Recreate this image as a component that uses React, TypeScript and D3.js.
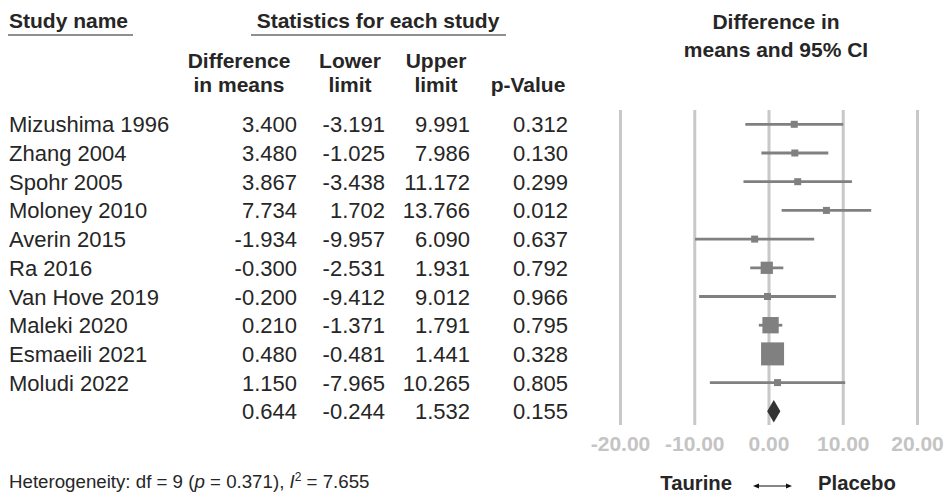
import React from "react";
import * as d3 from "d3";

// Study-level results (difference in means, 95% CI, p-value)
const studies = [
  "Mizushima 1996",
  "Zhang 2004",
  "Spohr 2005",
  "Moloney 2010",
  "Averin 2015",
  "Ra 2016",
  "Van Hove 2019",
  "Maleki 2020",
  "Esmaeili 2021",
  "Moludi 2022",
];
const diffs = [3.4, 3.48, 3.867, 7.734, -1.934, -0.3, -0.2, 0.21, 0.48, 1.15];
const lowers = [-3.191, -1.025, -3.438, 1.702, -9.957, -2.531, -9.412, -1.371, -0.481, -7.965];
const uppers = [9.991, 7.986, 11.172, 13.766, 6.09, 1.931, 9.012, 1.791, 1.441, 10.265];
const pValues = [0.312, 0.13, 0.299, 0.012, 0.637, 0.792, 0.966, 0.795, 0.328, 0.805];

// Pooled estimate
const pooled = { diff: 0.644, lower: -0.244, upper: 1.532, p: 0.155 };

const axisTicks = [-20, -10, 0, 10, 20];

const W = 946;
const H = 497;
const FONT = "'Liberation Sans', Arial, Helvetica, sans-serif";
const TEXT = "#262626";
const MARK = "#808080";
const GRID = "#c8c8c8";

// Random-effects (DerSimonian-Laird) weights, derived from the CIs, to size the squares
function reWeights(): number[] {
  const v = lowers.map((lo, i) => Math.pow((uppers[i] - lo) / (2 * 1.96), 2));
  const w = v.map((x) => 1 / x);
  const sw = d3.sum(w);
  const mean = d3.sum(w.map((wi, i) => wi * diffs[i])) / sw;
  const Q = d3.sum(w.map((wi, i) => wi * Math.pow(diffs[i] - mean, 2)));
  const C = sw - d3.sum(w.map((wi) => wi * wi)) / sw;
  const tau2 = Math.max(0, (Q - (studies.length - 1)) / C);
  return v.map((vi) => 1 / (vi + tau2));
}

export default function App() {
  const x = d3.scaleLinear().domain([-20, 20]).range([620.5, 917.5]);
  const row = d3
    .scaleLinear()
    .domain([0, studies.length])
    .range([124.3, 124.3 + 28.7 * studies.length]);
  const weights = reWeights();
  const side = d3.scaleSqrt().domain([0, d3.max(weights) as number]).range([0, 23]);

  const colRight = [297, 385, 470, 568];
  const colCenter = [239, 350, 436, 528];
  const rowFont = 22;
  const base = 8;

  const gridTop = 110;
  const gridBottom = 425;

  const fmt3 = (v: number) => v.toFixed(3);

  const arrowY = 486;
  const arrowL = 753;
  const arrowR = 792;

  return (
    <svg
      width={W}
      height={H}
      viewBox={`0 0 ${W} ${H}`}
      style={{ position: "absolute", left: 0, top: 0, background: "#fff" }}
      fontFamily={FONT}
    >
      {/* Column headers */}
      <g fontWeight="bold" fill={TEXT} fontSize={21}>
        <text x={9} y={28}>Study name</text>
        <line x1={8} x2={133} y1={35} y2={35} stroke="#6a6a6a" strokeWidth={1.6} />
        <text x={378} y={28} textAnchor="middle">Statistics for each study</text>
        <line x1={251} x2={506} y1={35} y2={35} stroke="#6a6a6a" strokeWidth={1.6} />

        <text x={colCenter[0]} y={68} textAnchor="middle">Difference</text>
        <text x={colCenter[0]} y={92} textAnchor="middle">in means</text>
        <text x={colCenter[1]} y={68} textAnchor="middle">Lower</text>
        <text x={colCenter[1]} y={92} textAnchor="middle">limit</text>
        <text x={colCenter[2]} y={68} textAnchor="middle">Upper</text>
        <text x={colCenter[2]} y={92} textAnchor="middle">limit</text>
        <text x={colCenter[3]} y={92} textAnchor="middle">p-Value</text>

        <text x={776} y={29} textAnchor="middle">Difference in</text>
        <text x={776} y={57} textAnchor="middle">means and 95% CI</text>
      </g>

      {/* Study rows */}
      <g fontSize={rowFont} fill={TEXT}>
        {studies.map((s, i) => (
          <g key={s}>
            <text x={9} y={row(i) + base}>{s}</text>
            <text x={colRight[0]} y={row(i) + base} textAnchor="end">{fmt3(diffs[i])}</text>
            <text x={colRight[1]} y={row(i) + base} textAnchor="end">{fmt3(lowers[i])}</text>
            <text x={colRight[2]} y={row(i) + base} textAnchor="end">{fmt3(uppers[i])}</text>
            <text x={colRight[3]} y={row(i) + base} textAnchor="end">{fmt3(pValues[i])}</text>
          </g>
        ))}
        <g>
          <text x={colRight[0]} y={row(studies.length) + base} textAnchor="end">{fmt3(pooled.diff)}</text>
          <text x={colRight[1]} y={row(studies.length) + base} textAnchor="end">{fmt3(pooled.lower)}</text>
          <text x={colRight[2]} y={row(studies.length) + base} textAnchor="end">{fmt3(pooled.upper)}</text>
          <text x={colRight[3]} y={row(studies.length) + base} textAnchor="end">{fmt3(pooled.p)}</text>
        </g>
      </g>

      {/* Vertical gridlines */}
      <g>
        {axisTicks.map((t) => (
          <line key={t} x1={x(t)} x2={x(t)} y1={gridTop} y2={gridBottom} stroke={GRID} strokeWidth={3} />
        ))}
      </g>

      {/* Confidence intervals and point estimates */}
      <g>
        {studies.map((s, i) => {
          const sz = Math.max(7, side(weights[i]));
          return (
            <g key={s}>
              <line x1={x(lowers[i])} x2={x(uppers[i])} y1={row(i)} y2={row(i)} stroke={MARK} strokeWidth={2.8} />
              <rect x={x(diffs[i]) - sz / 2} y={row(i) - sz / 2} width={sz} height={sz} fill={MARK} />
            </g>
          );
        })}
        <path
          d={`M${x(pooled.lower)},${row(studies.length)} L${x(pooled.diff)},${row(studies.length) - 11.3} L${x(pooled.upper)},${row(studies.length)} L${x(pooled.diff)},${row(studies.length) + 11.3} Z`}
          fill="#333333"
        />
      </g>

      {/* Axis tick labels */}
      <g fontSize={21} fontWeight="bold" fill="#c4c4c4">
        {axisTicks.map((t) => (
          <text key={t} x={x(t)} y={451} textAnchor="middle">{t.toFixed(2)}</text>
        ))}
      </g>

      {/* Heterogeneity footer */}
      <text x={9} y={488} fontSize={18.7} fill={TEXT}>
        Heterogeneity: df = 9 (<tspan fontStyle="italic">p</tspan> = 0.371),{" "}
        <tspan fontStyle="italic">I</tspan>
        <tspan fontSize={12} dy={-7}>2</tspan>
        <tspan dy={7}> = 7.655</tspan>
      </text>

      {/* Direction labels */}
      <g fontSize={20.3} fontWeight="bold" fill={TEXT}>
        <text x={732} y={490} textAnchor="end">Taurine</text>
        <text x={818} y={490}>Placebo</text>
      </g>
      <g fill="#111">
        <line x1={arrowL + 4} x2={arrowR - 4} y1={arrowY} y2={arrowY} stroke="#111" strokeWidth={1} />
        <path d={`M${arrowL},${arrowY} l6,-2.5 l0,5 Z`} />
        <path d={`M${arrowR},${arrowY} l-6,-2.5 l0,5 Z`} />
      </g>
    </svg>
  );
}
